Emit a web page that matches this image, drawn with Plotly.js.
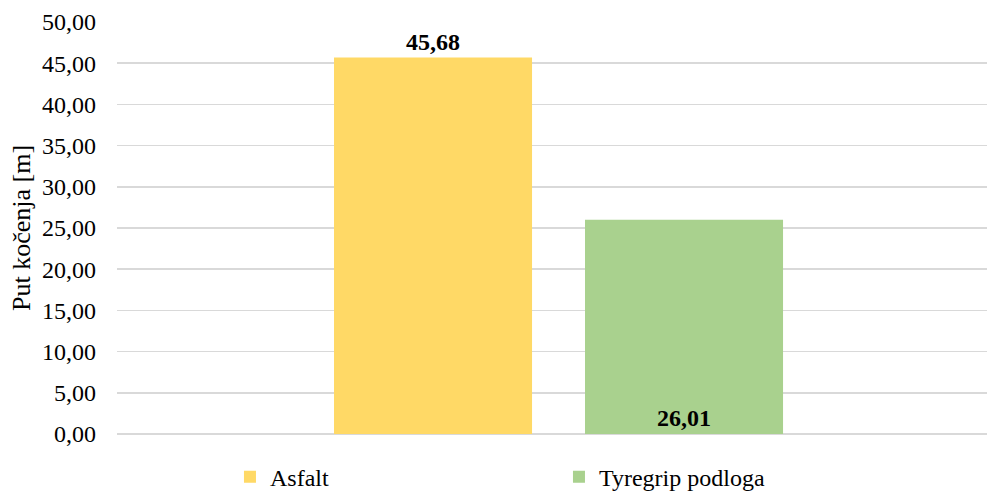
<!DOCTYPE html>
<html>
<head>
<meta charset="utf-8">
<script src="https://cdn.plot.ly/plotly-3.0.1.min.js"></script>
<style>html,body{margin:0;padding:0;background:#fff}#chart{width:987px;height:495px}</style>
</head>
<body>
<div id="chart"></div>
<script>
const category = [""];
const seriesNames = ["Asfalt", "Tyregrip podloga"];
const asfaltValues = [45.68];
const tyregripValues = [26.01];
const valueLabels = [["45,68"], ["26,01"]];
const yTickValues = [0, 5, 10, 15, 20, 25, 30, 35, 40, 45, 50];

const font = "'Liberation Serif', 'Times New Roman', serif";

const traces = [
  {
    type: "bar", name: seriesNames[0], x: category, y: asfaltValues,
    marker: {color: "#FFD966"},
    text: valueLabels[0], textposition: "outside", cliponaxis: false,
    textfont: {family: font, size: 24, color: "#000", weight: "bold"},
    hoverinfo: "none"
  },
  {
    type: "bar", name: seriesNames[1], x: category, y: tyregripValues,
    marker: {color: "#A9D18E"},
    text: valueLabels[1], textposition: "inside", insidetextanchor: "start",
    textfont: {family: font, size: 24, color: "#000", weight: "bold"},
    hoverinfo: "none"
  }
];

const layout = {
  width: 987, height: 495,
  margin: {l: 117, r: 0, t: 22, b: 61, pad: 0},
  paper_bgcolor: "#fff", plot_bgcolor: "#fff",
  separators: ", ",
  font: {family: font, size: 24, color: "#000"},
  barmode: "group", bargap: 0.423, bargroupgap: 0.211,
  showlegend: true,
  legend: {
    orientation: "h", xref: "container", yref: "container",
    x: 0.233, xanchor: "left", y: 0.036, yanchor: "middle",
    entrywidth: 284, font: {family: font, size: 24, color: "#000"},
    bgcolor: "rgba(0,0,0,0)"
  },
  xaxis: {
    type: "category", range: [-0.5075, 0.4925], showticklabels: false,
    showgrid: false, zeroline: false, showline: false, fixedrange: true
  },
  yaxis: {
    range: [0, 50], tickvals: yTickValues, tickformat: ".2f",
    showgrid: true, gridcolor: "#D9D9D9", gridwidth: 1.5,
    zeroline: true, zerolinecolor: "#D9D9D9", zerolinewidth: 1.5,
    showline: false, ticks: "", ticklabelstandoff: 20,
    tickfont: {family: font, size: 24, color: "#000"},
    title: {text: "Put kočenja [m]", standoff: 3, font: {family: font, size: 26, color: "#000"}},
    fixedrange: true
  }
};

Plotly.newPlot("chart", traces, layout, {displayModeBar: false, staticPlot: true});
</script>
</body>
</html>
